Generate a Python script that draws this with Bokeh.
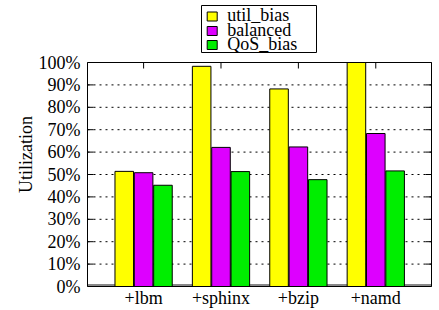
from bokeh.plotting import figure
from bokeh.models import Range1d, FixedTicker, ColumnDataSource
from bokeh.core.properties import value
from bokeh.embed import file_html
from bokeh.resources import INLINE

categories = ["+lbm", "+sphinx", "+bzip", "+namd"]
series_names = ["util_bias", "balanced", "QoS_bias"]
util_bias = [51.4, 98.3, 88.2, 100.0]
balanced = [50.8, 62.1, 62.3, 68.3]
qos_bias = [45.2, 51.3, 47.7, 51.6]
colors = ["#FFFF00", "#DD00FF", "#00EE00"]
y_ticks = [0, 10, 20, 30, 40, 50, 60, 70, 80, 90, 100]

FONT = "Liberation Serif"

# ---- layout (figure pixel coordinates) ----
W, H = 436, 308
FRAME_L = 85                   # frame starts here; frame runs to the right/bottom edge
BOX_L, BOX_R = 87, 431         # plot box in px
BOX_T, BOX_B = 62, 286
X0, X1 = -0.725, 3.72          # data limits of the box
Y0, Y1 = 0, 100
sx = (BOX_R - BOX_L) / (X1 - X0)
sy = (BOX_B - BOX_T) / (Y1 - Y0)


def px_x(px):
    return X0 + (px - BOX_L) / sx


def px_y(py):
    return Y1 - (py - BOX_T) / sy


p = figure(width=W, height=H, output_backend="svg", toolbar_location=None,
           x_range=Range1d(px_x(FRAME_L), px_x(W)),
           y_range=Range1d(px_y(H), px_y(0)),
           min_border_left=FRAME_L, min_border_right=0, min_border_top=0,
           min_border_bottom=0)
p.outline_line_color = None
p.background_fill_color = "white"
p.border_fill_color = "white"
p.xgrid.visible = False
p.ygrid.visible = False
p.xaxis.visible = False

# dotted grid inside the box
gy = y_ticks[1:-1]
p.segment(x0=[X0] * len(gy), x1=[X1] * len(gy), y0=gy, y1=gy,
          line_color="black", line_width=1, line_dash="2 4")

# gray baseline
p.segment(x0=[X0], x1=[X1], y0=[0.7], y1=[0.7], line_color="#888888", line_width=2)

cat_pos = list(range(len(categories)))
data = [util_bias, balanced, qos_bias]
offsets = [-0.25, 0.0, 0.25]
for i, vals in enumerate(data):
    src = ColumnDataSource(dict(x=[k + offsets[i] for k in cat_pos], top=vals))
    p.vbar(x="x", top="top", width=0.24, bottom=0, source=src,
           fill_color=colors[i], line_color="black", line_width=1)

# box border
p.quad(left=[X0], right=[X1], bottom=[Y0], top=[Y1], fill_color=None,
       line_color="black", line_width=1)

# inward ticks on all four sides
tlx = 6 / sx
tly = 6 / sy
p.segment(x0=[X0] * len(y_ticks), x1=[X0 + tlx] * len(y_ticks), y0=y_ticks, y1=y_ticks,
          line_color="black", line_width=1)
p.segment(x0=[X1 - tlx] * len(y_ticks), x1=[X1] * len(y_ticks), y0=y_ticks, y1=y_ticks,
          line_color="black", line_width=1)
p.segment(x0=cat_pos, x1=cat_pos, y0=[Y1 - tly] * len(cat_pos), y1=[Y1] * len(cat_pos),
          line_color="black", line_width=1)

# x category labels
p.text(x=cat_pos, y=[px_y(297)] * len(cat_pos), text=categories,
       text_font=value(FONT), text_font_size="18px", text_color="black",
       text_align="center", text_baseline="middle")

# y axis (labels only)
p.yaxis.ticker = FixedTicker(ticks=y_ticks)
p.yaxis.major_label_overrides = {t: f"{t}%" for t in y_ticks}
p.yaxis.axis_label = "Utilization"
ax = p.yaxis[0]
ax.axis_line_color = None
ax.major_tick_line_color = None
ax.minor_tick_line_color = None
ax.major_tick_in = 0
ax.major_tick_out = 0
ax.major_label_text_font = FONT
ax.major_label_text_font_size = "18px"
ax.major_label_text_color = "black"
ax.major_label_standoff = 5
ax.axis_label_text_font = FONT
ax.axis_label_text_font_size = "18px"
ax.axis_label_text_font_style = "normal"
ax.axis_label_text_color = "black"
ax.axis_label_standoff = 0

# legend box (drawn from the series names and colours)
LEG_L, LEG_R, LEG_T, LEG_B = 201, 316, 5, 52
square_py = [16, 30.5, 44.5]
text_py = [14.5, 29, 43]
p.quad(left=[px_x(LEG_L)], right=[px_x(LEG_R)], bottom=[px_y(LEG_B)], top=[px_y(LEG_T)],
       fill_color="white", line_color="black", line_width=1)
p.rect(x=[px_x(211.7)] * len(series_names), y=[px_y(r) for r in square_py],
       width=10, height=9, width_units="screen", height_units="screen",
       fill_color=colors, line_color="black", line_width=1)
p.text(x=[px_x(226.7)] * len(series_names), y=[px_y(r) for r in text_py], text=series_names,
       text_font=value(FONT), text_font_size="18px", text_color="black",
       text_align="left", text_baseline="middle")

open("out.html", "w").write(file_html(p, INLINE))
